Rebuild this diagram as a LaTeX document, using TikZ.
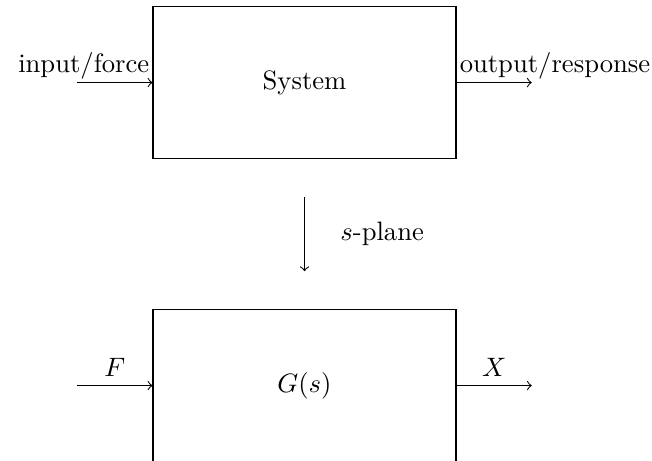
\documentclass[tikz,border=0pt]{standalone}
\begin{document}
\begin{tikzpicture}[
  blockbox/.style={draw, minimum width=4cm, minimum height=2cm},
  conn/.style={->},
  portlabel/.style={inner sep=1pt}
]
\useasboundingbox (0,0) rectangle (8.607,-6.073);
\node[blockbox] (sys) at (4.02,-1.09) {System};
\node[blockbox] (G) at (4.02,-5.09) {$G(s)$};
\coordinate (inA) at (1.02,-1.09);
\coordinate (outA) at (7.02,-1.09);
\coordinate (inB) at (1.02,-5.09);
\coordinate (outB) at (7.02,-5.09);
\coordinate (dTop) at (4.02,-2.60);
\coordinate (dBot) at (4.02,-3.58);
\draw[conn] (inA) -- (sys.west) node[portlabel, above left] {input/force};
\draw[conn] (sys.east) -- (outA);
\node[portlabel, above right] at (sys.east) {output/response};
\draw[conn] (dTop) -- (dBot) node[midway, right=0.35cm] {$s$-plane};
\draw[conn] (inB) -- (G.west) node[midway, above] {$F$};
\draw[conn] (G.east) -- (outB) node[midway, above] {$X$};
\end{tikzpicture}
\end{document}
